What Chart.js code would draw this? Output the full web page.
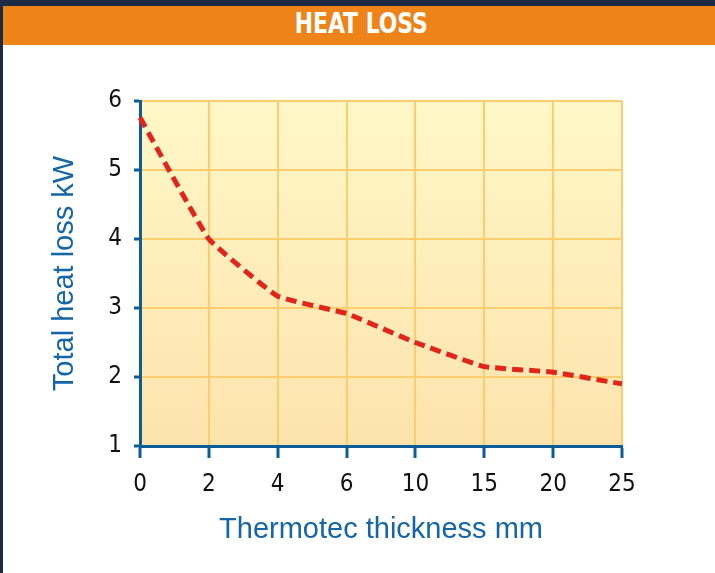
<!DOCTYPE html>
<html>
<head>
<meta charset="utf-8">
<script src="https://cdn.jsdelivr.net/npm/chart.js@4.4.1/dist/chart.umd.min.js"></script>
<style>
  html, body { margin: 0; padding: 0; }
  body { width: 715px; height: 573px; background: #1d2a44; position: relative; overflow: hidden; }
  #band { position: absolute; left: 3px; top: 6px; width: 712px; height: 39px; background: #ee8419;
          color: #fff; text-align: center; line-height: 39px; }
  #band span { display: inline-block; font: bold 29px 'DejaVu Sans Condensed', sans-serif;
               transform: scaleX(0.84); margin-left: 4px; }
  #panel { position: absolute; left: 3px; top: 45px; width: 712px; height: 528px; background: #fff; }
  #wrap { position: absolute; left: 0; top: 45px; width: 715px; height: 528px; }
</style>
</head>
<body>
<div id="band"><span>HEAT LOSS</span></div>
<div id="panel"></div>
<div id="wrap"><canvas id="myChart"></canvas></div>
<script>
const thickness = ['0', '2', '4', '6', '10', '15', '20', '25'];
const heatLoss = [5.76, 4.0, 3.17, 2.92, 2.5, 2.15, 2.07, 1.9];
const yTicks = [1, 2, 3, 4, 5, 6];

const narrow = "'DejaVu Sans Condensed', sans-serif";
const blue = '#0b5d97';
const gridOrange = '#fdcc6c';

// fills the plot area with the pale yellow gradient
const plotBackground = {
    id: 'plotBackground',
    beforeDraw(chart) {
        const { ctx, chartArea: a } = chart;
        const g = ctx.createLinearGradient(0, a.top, 0, a.bottom);
        g.addColorStop(0, '#fff7c7');
        g.addColorStop(1, '#fde3ad');
        ctx.save();
        ctx.fillStyle = g;
        ctx.fillRect(a.left, a.top, a.right - a.left, a.bottom - a.top);
        ctx.restore();
    }
};

new Chart(document.getElementById('myChart'), {
    type: 'line',
    data: {
        labels: thickness,
        datasets: [{
            data: heatLoss,
            borderColor: '#e1251b',
            borderWidth: 5,
            borderDash: [11, 6],
            pointRadius: 0,
            tension: 0.1,
            fill: false
        }]
    },
    options: {
        responsive: true,
        maintainAspectRatio: false,
        animation: false,
        layout: { padding: { left: 0, right: 93, top: 56, bottom: 0 } },
        plugins: { legend: { display: false }, tooltip: { enabled: false } },
        scales: {
            x: {
                offset: false,
                afterFit: function (scale) { scale.height = 127; },
                grid: { color: gridOrange, lineWidth: 2, tickColor: blue, tickWidth: 3, tickLength: 12 },
                border: { color: blue, width: 3 },
                ticks: { color: '#111', padding: 12, font: { family: narrow, size: 24 } },
                title: {
                    display: true, text: 'Thermotec thickness mm', color: '#1466a6',
                    font: { family: "'Liberation Sans', Arial, sans-serif", size: 29 },
                    padding: { top: 0, bottom: 26 }
                }
            },
            y: {
                min: 1,
                max: 6,
                afterFit: function (scale) { scale.width = 140; },
                afterBuildTicks: function (scale) { scale.ticks = yTicks.map(v => ({ value: v })); },
                grid: { color: gridOrange, lineWidth: 2, tickColor: blue, tickWidth: 3, tickLength: 6 },
                border: { color: blue, width: 3 },
                ticks: { color: '#111', padding: 12, font: { family: narrow, size: 24 } },
                title: {
                    display: true, text: 'Total heat loss kW', color: '#1466a6',
                    font: { family: "'Liberation Sans', Arial, sans-serif", size: 29 },
                    padding: { top: 48, bottom: 0 }
                }
            }
        }
    },
    plugins: [plotBackground]
});
</script>
</body>
</html>
